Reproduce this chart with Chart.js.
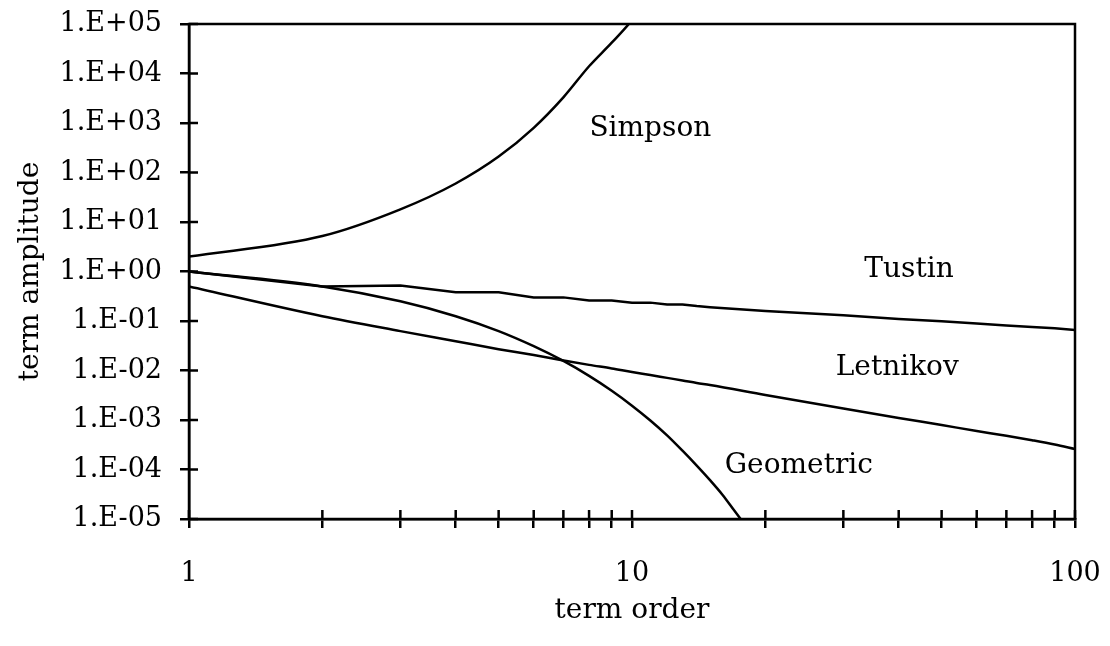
<!DOCTYPE html>
<html>
<head>
<meta charset="utf-8">
<script src="https://cdn.jsdelivr.net/npm/chart.js@4/dist/chart.umd.min.js"></script>
<style>
  html, body { margin: 0; padding: 0; background: #fff; }
  #chart { display: block; }
</style>
</head>
<body>
<canvas id="chart" width="1110" height="646"></canvas>
<script>
// term order (x) and term amplitude (y)
const termOrder = [1, 2, 3, 4, 5, 6, 7, 8, 9, 10, 11, 12, 13, 14, 15, 20, 30, 40, 50, 60, 70, 80, 90, 100];
const tustin = [1.0, 0.5, 0.52, 0.38, 0.38, 0.30, 0.30, 0.26, 0.26, 0.235, 0.235, 0.215, 0.215, 0.20, 0.19, 0.16, 0.13, 0.11, 0.099, 0.089, 0.081, 0.076, 0.071, 0.066];
const letnikov = [0.5, 0.125, 0.0625, 0.039, 0.027, 0.0205, 0.016, 0.013, 0.011, 0.0093, 0.0081, 0.0071, 0.0063, 0.0056, 0.0051, 0.0032, 0.0017, 0.0011, 0.00079, 0.0006, 0.00048, 0.00039, 0.00032, 0.00026];

const simpsonOrder = [1, 2, 3, 4, 5, 6, 7, 8, 9, 10, 11];
const simpson = [2, 5.2, 18, 60, 210, 800, 3300, 14000, 42000, 120000, 420000];

const geometricOrder = [1, 2, 3, 4, 5, 6, 7, 8, 9, 10, 11, 12, 13, 14, 15, 16, 17, 18];
const geometric = [1, 0.5, 0.25, 0.125, 0.0625, 0.031, 0.0156, 0.0078, 0.0039, 0.00195, 0.00098, 0.00049, 0.00024, 0.00012, 0.000061, 0.000031, 0.000015, 0.0000076];

const xTicks = [1, 2, 3, 4, 5, 6, 7, 8, 9, 10, 20, 30, 40, 50, 60, 70, 80, 90, 100];
const xLabelled = [1, 10, 100];
const yTicks = [1e-5, 1e-4, 1e-3, 1e-2, 1e-1, 1, 1e1, 1e2, 1e3, 1e4, 1e5];

// curve names written inside the plot, anchored in data units
const curveNames = ['Simpson', 'Tustin', 'Letnikov', 'Geometric'];
const nameX = [11.0, 42.2, 39.7, 23.8];
const nameY = [545, 0.774, 0.00805, 0.0000865];

const FONT = '"DejaVu Serif", "Liberation Serif", serif';

function pts(xs, ys) {
  return xs.map((x, i) => ({ x: x, y: ys[i] }));
}

function line(label, data, smooth) {
  return {
    label: label,
    data: data,
    borderColor: '#000',
    borderWidth: 2.5,
    pointRadius: 0,
    tension: 0,
    cubicInterpolationMode: smooth ? 'monotone' : 'default',
    fill: false
  };
}

function sciLabel(v) {
  const e = Math.round(Math.log10(v));
  return '1.E' + (e < 0 ? '-' : '+') + String(Math.abs(e)).padStart(2, '0');
}

// frame, inner halves of the ticks, curve names
const framePlugin = {
  id: 'frame',
  afterDraw(chart) {
    const { ctx, chartArea: a, scales } = chart;
    const x = scales.x, y = scales.y;
    ctx.save();
    ctx.strokeStyle = '#000';
    ctx.lineWidth = 2.5;
    ctx.strokeRect(a.left, a.top, a.right - a.left, a.bottom - a.top);
    ctx.beginPath();
    x.ticks.forEach(t => {
      const px = x.getPixelForValue(t.value);
      ctx.moveTo(px, a.bottom);
      ctx.lineTo(px, a.bottom - 9);
    });
    y.ticks.forEach(t => {
      const py = y.getPixelForValue(t.value);
      ctx.moveTo(a.left, py);
      ctx.lineTo(a.left + 9, py);
    });
    ctx.stroke();

    ctx.fillStyle = '#000';
    ctx.font = '28px ' + FONT;
    ctx.textAlign = 'center';
    ctx.textBaseline = 'alphabetic';
    curveNames.forEach((n, i) => {
      ctx.fillText(n, x.getPixelForValue(nameX[i]), y.getPixelForValue(nameY[i]));
    });
    ctx.restore();
  }
};

new Chart(document.getElementById('chart'), {
  type: 'line',
  data: {
    datasets: [
      line('Simpson', pts(simpsonOrder, simpson), true),
      line('Tustin', pts(termOrder, tustin), false),
      line('Letnikov', pts(termOrder, letnikov), true),
      line('Geometric', pts(geometricOrder, geometric), true)
    ]
  },
  options: {
    responsive: false,
    devicePixelRatio: 1,
    animation: false,
    layout: { padding: { top: 24, right: 35, left: 0, bottom: 0 } },
    plugins: {
      legend: { display: false },
      tooltip: { enabled: false }
    },
    scales: {
      x: {
        type: 'logarithmic',
        position: 'bottom',
        min: 1,
        max: 100,
        afterBuildTicks: s => { s.ticks = xTicks.map(v => ({ value: v })); },
        afterFit: s => { s.height = 127; s.paddingLeft = 0; s.paddingRight = 0; },
        grid: { drawOnChartArea: false, drawTicks: true, tickLength: 9, color: '#000', lineWidth: 2.5 },
        border: { display: true, color: '#000', width: 2.5 },
        ticks: {
          autoSkip: false,
          maxRotation: 0,
          padding: 30,
          color: '#000',
          font: { family: FONT, size: 27 },
          callback: v => xLabelled.includes(v) ? String(v) : ''
        },
        title: {
          display: true,
          text: 'term order',
          color: '#000',
          font: { family: FONT, size: 28 },
          padding: { top: 0, bottom: 18 }
        }
      },
      y: {
        type: 'logarithmic',
        position: 'left',
        min: 1e-5,
        max: 1e5,
        afterBuildTicks: s => { s.ticks = yTicks.map(v => ({ value: v })); },
        afterFit: s => { s.width = 189; s.paddingTop = 0; s.paddingBottom = 0; },
        grid: { drawOnChartArea: false, drawTicks: true, tickLength: 9, color: '#000', lineWidth: 2.5 },
        border: { display: true, color: '#000', width: 2.5 },
        ticks: {
          autoSkip: false,
          padding: 18,
          color: '#000',
          font: { family: FONT, size: 27 },
          callback: v => sciLabel(v)
        },
        title: {
          display: true,
          text: 'term amplitude',
          color: '#000',
          font: { family: FONT, size: 28 },
          padding: { top: 14, bottom: 0 }
        }
      }
    }
  },
  plugins: [framePlugin]
});
</script>
</body>
</html>
